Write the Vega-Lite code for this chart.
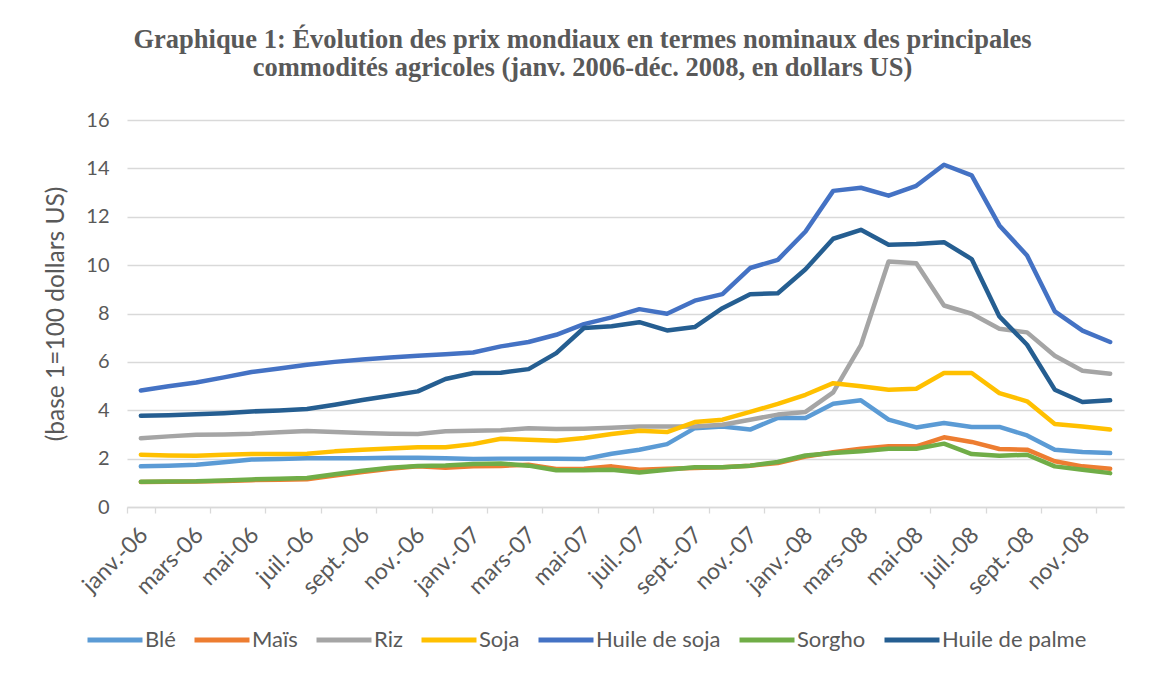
{
  "$schema": "https://vega.github.io/schema/vega-lite/v6.json",
  "width": 997,
  "height": 387,
  "autosize": {"type": "none"},
  "padding": {"left": 127, "top": 120, "right": 31, "bottom": 168},
  "background": "white",
  "title": {
    "text": ["Graphique 1: Évolution des prix mondiaux en termes nominaux des principales", "commodités agricoles (janv. 2006-déc. 2008, en dollars US)"],
    "font": "Liberation Serif",
    "fontWeight": "bold",
    "fontSize": 26.5,
    "lineHeight": 28,
    "color": "#595959",
    "anchor": "middle",
    "frame": "group",
    "dx": -43,
    "offset": 29
  },
  "data": {"values": [
    {"m":"janv.-06","Blé":1.68,"Maïs":1.03,"Riz":2.84,"Soja":2.16,"Huile de soja":4.82,"Sorgho":1.04,"Huile de palme":3.77},
    {"m":"févr.-06","Blé":1.71,"Maïs":1.04,"Riz":2.92,"Soja":2.13,"Huile de soja":4.99,"Sorgho":1.05,"Huile de palme":3.79},
    {"m":"mars-06","Blé":1.75,"Maïs":1.05,"Riz":2.99,"Soja":2.12,"Huile de soja":5.15,"Sorgho":1.06,"Huile de palme":3.83},
    {"m":"avr.-06","Blé":1.85,"Maïs":1.08,"Riz":3.00,"Soja":2.16,"Huile de soja":5.36,"Sorgho":1.10,"Huile de palme":3.88},
    {"m":"mai-06","Blé":1.96,"Maïs":1.11,"Riz":3.03,"Soja":2.19,"Huile de soja":5.58,"Sorgho":1.14,"Huile de palme":3.95},
    {"m":"juin-06","Blé":1.98,"Maïs":1.13,"Riz":3.09,"Soja":2.19,"Huile de soja":5.73,"Sorgho":1.17,"Huile de palme":3.99},
    {"m":"juil.-06","Blé":2.02,"Maïs":1.15,"Riz":3.14,"Soja":2.20,"Huile de soja":5.88,"Sorgho":1.20,"Huile de palme":4.05},
    {"m":"août-06","Blé":2.02,"Maïs":1.30,"Riz":3.10,"Soja":2.30,"Huile de soja":6.00,"Sorgho":1.35,"Huile de palme":4.23},
    {"m":"sept.-06","Blé":2.02,"Maïs":1.45,"Riz":3.06,"Soja":2.37,"Huile de soja":6.10,"Sorgho":1.50,"Huile de palme":4.42},
    {"m":"oct.-06","Blé":2.04,"Maïs":1.58,"Riz":3.03,"Soja":2.42,"Huile de soja":6.18,"Sorgho":1.62,"Huile de palme":4.60},
    {"m":"nov.-06","Blé":2.04,"Maïs":1.68,"Riz":3.02,"Soja":2.47,"Huile de soja":6.25,"Sorgho":1.70,"Huile de palme":4.78},
    {"m":"déc.-06","Blé":2.02,"Maïs":1.62,"Riz":3.13,"Soja":2.47,"Huile de soja":6.32,"Sorgho":1.72,"Huile de palme":5.29},
    {"m":"janv.-07","Blé":1.98,"Maïs":1.68,"Riz":3.15,"Soja":2.60,"Huile de soja":6.39,"Sorgho":1.78,"Huile de palme":5.54},
    {"m":"févr.-07","Blé":2.00,"Maïs":1.70,"Riz":3.17,"Soja":2.82,"Huile de soja":6.64,"Sorgho":1.80,"Huile de palme":5.55},
    {"m":"mars-07","Blé":2.00,"Maïs":1.75,"Riz":3.26,"Soja":2.78,"Huile de soja":6.82,"Sorgho":1.71,"Huile de palme":5.70},
    {"m":"avr.-07","Blé":2.00,"Maïs":1.57,"Riz":3.22,"Soja":2.74,"Huile de soja":7.12,"Sorgho":1.52,"Huile de palme":6.36},
    {"m":"mai-07","Blé":1.98,"Maïs":1.58,"Riz":3.24,"Soja":2.85,"Huile de soja":7.56,"Sorgho":1.52,"Huile de palme":7.40},
    {"m":"juin-07","Blé":2.20,"Maïs":1.68,"Riz":3.28,"Soja":3.02,"Huile de soja":7.84,"Sorgho":1.54,"Huile de palme":7.47},
    {"m":"juil.-07","Blé":2.37,"Maïs":1.54,"Riz":3.33,"Soja":3.15,"Huile de soja":8.18,"Sorgho":1.43,"Huile de palme":7.64},
    {"m":"août-07","Blé":2.60,"Maïs":1.58,"Riz":3.33,"Soja":3.10,"Huile de soja":7.99,"Sorgho":1.54,"Huile de palme":7.30},
    {"m":"sept.-07","Blé":3.26,"Maïs":1.61,"Riz":3.33,"Soja":3.51,"Huile de soja":8.53,"Sorgho":1.64,"Huile de palme":7.44},
    {"m":"oct.-07","Blé":3.33,"Maïs":1.64,"Riz":3.40,"Soja":3.61,"Huile de soja":8.80,"Sorgho":1.64,"Huile de palme":8.22},
    {"m":"nov.-07","Blé":3.20,"Maïs":1.71,"Riz":3.61,"Soja":3.93,"Huile de soja":9.88,"Sorgho":1.71,"Huile de palme":8.80},
    {"m":"déc.-07","Blé":3.68,"Maïs":1.82,"Riz":3.82,"Soja":4.26,"Huile de soja":10.22,"Sorgho":1.86,"Huile de palme":8.84},
    {"m":"janv.-08","Blé":3.68,"Maïs":2.09,"Riz":3.93,"Soja":4.64,"Huile de soja":11.39,"Sorgho":2.13,"Huile de palme":9.83},
    {"m":"févr.-08","Blé":4.27,"Maïs":2.26,"Riz":4.74,"Soja":5.12,"Huile de soja":13.07,"Sorgho":2.23,"Huile de palme":11.09},
    {"m":"mars-08","Blé":4.41,"Maïs":2.41,"Riz":6.69,"Soja":4.99,"Huile de soja":13.20,"Sorgho":2.30,"Huile de palme":11.46},
    {"m":"avr.-08","Blé":3.61,"Maïs":2.51,"Riz":10.15,"Soja":4.85,"Huile de soja":12.87,"Sorgho":2.41,"Huile de palme":10.84},
    {"m":"mai-08","Blé":3.29,"Maïs":2.51,"Riz":10.08,"Soja":4.89,"Huile de soja":13.28,"Sorgho":2.41,"Huile de palme":10.87},
    {"m":"juin-08","Blé":3.47,"Maïs":2.88,"Riz":8.33,"Soja":5.54,"Huile de soja":14.15,"Sorgho":2.62,"Huile de palme":10.95},
    {"m":"juil.-08","Blé":3.31,"Maïs":2.69,"Riz":7.99,"Soja":5.54,"Huile de soja":13.71,"Sorgho":2.19,"Huile de palme":10.25},
    {"m":"août-08","Blé":3.31,"Maïs":2.40,"Riz":7.37,"Soja":4.71,"Huile de soja":11.64,"Sorgho":2.12,"Huile de palme":7.88},
    {"m":"sept.-08","Blé":2.96,"Maïs":2.37,"Riz":7.22,"Soja":4.37,"Huile de soja":10.40,"Sorgho":2.16,"Huile de palme":6.71},
    {"m":"oct.-08","Blé":2.37,"Maïs":1.89,"Riz":6.25,"Soja":3.43,"Huile de soja":8.09,"Sorgho":1.68,"Huile de palme":4.85},
    {"m":"nov.-08","Blé":2.27,"Maïs":1.68,"Riz":5.63,"Soja":3.33,"Huile de soja":7.29,"Sorgho":1.54,"Huile de palme":4.34},
    {"m":"déc.-08","Blé":2.23,"Maïs":1.58,"Riz":5.51,"Soja":3.20,"Huile de soja":6.82,"Sorgho":1.40,"Huile de palme":4.41}
  ]},
  "transform": [
    {"fold": ["Blé","Maïs","Riz","Soja","Huile de soja","Sorgho","Huile de palme"], "as": ["serie","valeur"]}
  ],
  "mark": {"type": "line", "strokeWidth": 4.5, "strokeCap": "round", "strokeJoin": "round"},
  "encoding": {
    "x": {
      "field": "m",
      "type": "ordinal",
      "bandPosition": 0.5,
      "scale": {
        "type": "band",
        "paddingInner": 0,
        "paddingOuter": 0,
        "domain": ["janv.-06","févr.-06","mars-06","avr.-06","mai-06","juin-06","juil.-06","août-06","sept.-06","oct.-06","nov.-06","déc.-06","janv.-07","févr.-07","mars-07","avr.-07","mai-07","juin-07","juil.-07","août-07","sept.-07","oct.-07","nov.-07","déc.-07","janv.-08","févr.-08","mars-08","avr.-08","mai-08","juin-08","juil.-08","août-08","sept.-08","oct.-08","nov.-08","déc.-08"]
      },
      "axis": {
        "title": null,
        "values": ["janv.-06","mars-06","mai-06","juil.-06","sept.-06","nov.-06","janv.-07","mars-07","mai-07","juil.-07","sept.-07","nov.-07","janv.-08","mars-08","mai-08","juil.-08","sept.-08","nov.-08"],
        "tickBand": "extent",
        "grid": false,
        "domainColor": "#d9d9d9",
        "domainWidth": 1.3,
        "tickColor": "#d9d9d9",
        "tickWidth": 1.3,
        "tickSize": 6,
        "labelAngle": -45,
        "labelAlign": "right",
        "labelBaseline": "middle",
        "labelPadding": 18,
        "labelOffset": 3,
        "labelFont": "Lato",
        "labelFontSize": 23,
        "labelColor": "#595959"
      }
    },
    "y": {
      "field": "valeur",
      "type": "quantitative",
      "scale": {"domain": [0, 16], "nice": false, "zero": true},
      "axis": {
        "values": [0,2,4,6,8,10,12,14,16],
        "title": "(base 1=100 dollars US)",
        "titleFont": "Lato",
        "titleFontSize": 24.5,
        "titleFontWeight": "normal",
        "titleColor": "#595959",
        "titlePadding": 17,
        "domain": false,
        "ticks": false,
        "grid": true,
        "gridColor": "#d9d9d9",
        "gridWidth": 1.3,
        "labelPadding": 18,
        "labelFont": "Lato",
        "labelFontSize": 20,
        "labelColor": "#595959"
      }
    },
    "color": {
      "field": "serie",
      "type": "nominal",
      "scale": {
        "domain": ["Blé","Maïs","Riz","Soja","Huile de soja","Sorgho","Huile de palme"],
        "range": ["#5B9BD5","#ED7D31","#A5A5A5","#FFC000","#4472C4","#70AD47","#255E91"]
      },
      "legend": {
        "title": null,
        "orient": "none",
        "legendX": -42,
        "legendY": 490,
        "direction": "horizontal",
        "columns": 7,
        "symbolType": "stroke",
        "symbolSize": 3025,
        "symbolStrokeWidth": 5,
        "labelFont": "Lato",
        "labelFontSize": 22,
        "labelColor": "#595959",
        "labelOffset": 0,
        "columnPadding": 8
      }
    }
  },
  "config": {"view": {"stroke": null}}
}
